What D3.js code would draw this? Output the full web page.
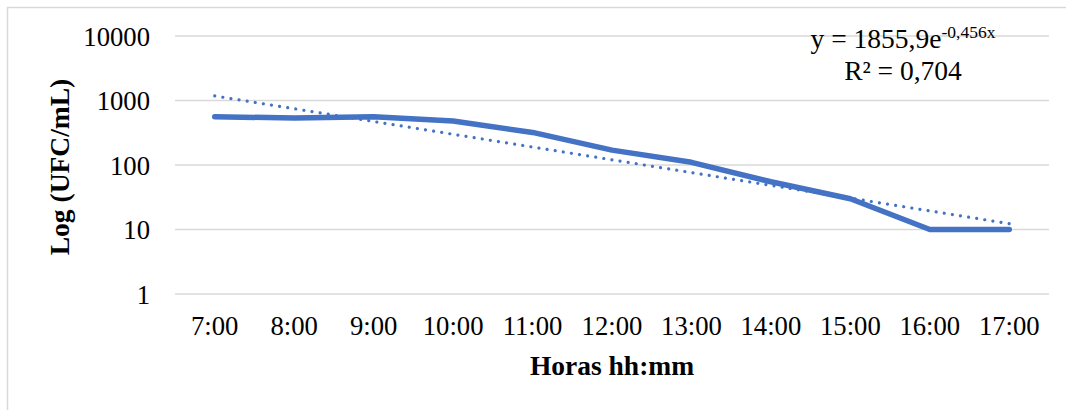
<!DOCTYPE html>
<html>
<head>
<meta charset="utf-8">
<script src="https://cdn.jsdelivr.net/npm/d3@7"></script>
<style>
  html, body { margin: 0; padding: 0; background: #fff; }
  svg { display: block; }
  text { font-family: "Liberation Serif", "Times New Roman", serif; fill: #000; }
</style>
</head>
<body>
<svg id="chart" width="1066" height="410"></svg>
<script>
// Hourly counts (UFC/mL)
const horas = ["7:00", "8:00", "9:00", "10:00", "11:00", "12:00", "13:00", "14:00", "15:00", "16:00", "17:00"];
const ufc = [560, 535, 560, 480, 320, 170, 110, 55, 30, 10, 10];
const yTicks = [1, 10, 100, 1000, 10000];

// Exponential trend: y = a * e^(b*x), x = 1..n
const trendA = 1855.9;
const trendB = -0.456;
const trendR2 = 0.704;

const W = 1066, H = 410;
const plot = { left: 175, right: 1049, top: 36, bottom: 294 };

const svg = d3.select("#chart");

// Chart area frame
svg.append("rect")
  .attr("x", 7.5).attr("y", 7.5)
  .attr("width", 1200).attr("height", 600)
  .attr("fill", "none")
  .attr("stroke", "#d9d9d9")
  .attr("stroke-width", 1.5);

const x = d3.scaleBand().domain(horas).range([plot.left, plot.right]).padding(0);
const y = d3.scaleLog().domain([1, 10000]).range([plot.bottom, plot.top]);
const cx = d => x(d) + x.bandwidth() / 2;

// Horizontal gridlines
svg.append("g")
  .selectAll("line")
  .data(yTicks)
  .join("line")
  .attr("x1", plot.left).attr("x2", plot.right)
  .attr("y1", d => y(d)).attr("y2", d => y(d))
  .attr("stroke", "#d9d9d9")
  .attr("stroke-width", 1.5);

// Y axis labels
const yAxis = d3.axisLeft(y).tickValues(yTicks).tickFormat(d3.format("d")).tickSize(0).tickPadding(25);
const gy = svg.append("g").attr("transform", `translate(${plot.left},0)`).call(yAxis);
gy.select(".domain").remove();
gy.selectAll("text").style("font-size", "26.7px").attr("dy", "0.34em");

// X axis labels
const xAxis = d3.axisBottom(x).tickSize(0).tickPadding(0);
const gx = svg.append("g").attr("transform", `translate(0,${plot.bottom})`).call(xAxis);
gx.select(".domain").remove();
gx.selectAll("text").style("font-size", "26.7px").attr("y", 41).attr("dy", 0);

// Trend line (dotted)
const trendPts = horas.map((h, i) => [cx(h), trendA * Math.exp(trendB * (i + 1))]);
svg.append("path")
  .datum(trendPts)
  .attr("fill", "none")
  .attr("stroke", "#4472c4")
  .attr("stroke-width", 3.2)
  .attr("stroke-linecap", "round")
  .attr("stroke-dasharray", "0.01 8.2")
  .attr("d", d3.line().x(d => d[0]).y(d => y(d[1])));

// Data series
svg.append("path")
  .datum(horas.map((h, i) => [cx(h), ufc[i]]))
  .attr("fill", "none")
  .attr("stroke", "#4472c4")
  .attr("stroke-width", 5.5)
  .attr("stroke-linecap", "round")
  .attr("stroke-linejoin", "round")
  .attr("d", d3.line().x(d => d[0]).y(d => y(d[1])));

// Axis titles
svg.append("text")
  .attr("x", (plot.left + plot.right) / 2).attr("y", 375)
  .attr("text-anchor", "middle")
  .style("font-size", "27.5px").style("font-weight", "bold")
  .text("Horas hh:mm");

svg.append("text")
  .attr("transform", `translate(69,${(plot.top + plot.bottom) / 2 + 2}) rotate(-90)`)
  .attr("text-anchor", "middle")
  .style("font-size", "27.5px").style("font-weight", "bold")
  .text("Log (UFC/mL)");

// Trend equation label
const fmt = v => String(v).replace(".", ",");
const eq = svg.append("text")
  .attr("x", 903).attr("y", 48)
  .attr("text-anchor", "middle")
  .style("font-size", "27.5px");
eq.append("tspan").text(`y = ${fmt(trendA)}e`);
eq.append("tspan").attr("dy", -10).style("font-size", "17.5px").text(`${fmt(trendB)}x`);

svg.append("text")
  .attr("x", 903).attr("y", 80)
  .attr("text-anchor", "middle")
  .style("font-size", "27.5px")
  .text(`R² = ${fmt(trendR2)}`);
</script>
</body>
</html>
